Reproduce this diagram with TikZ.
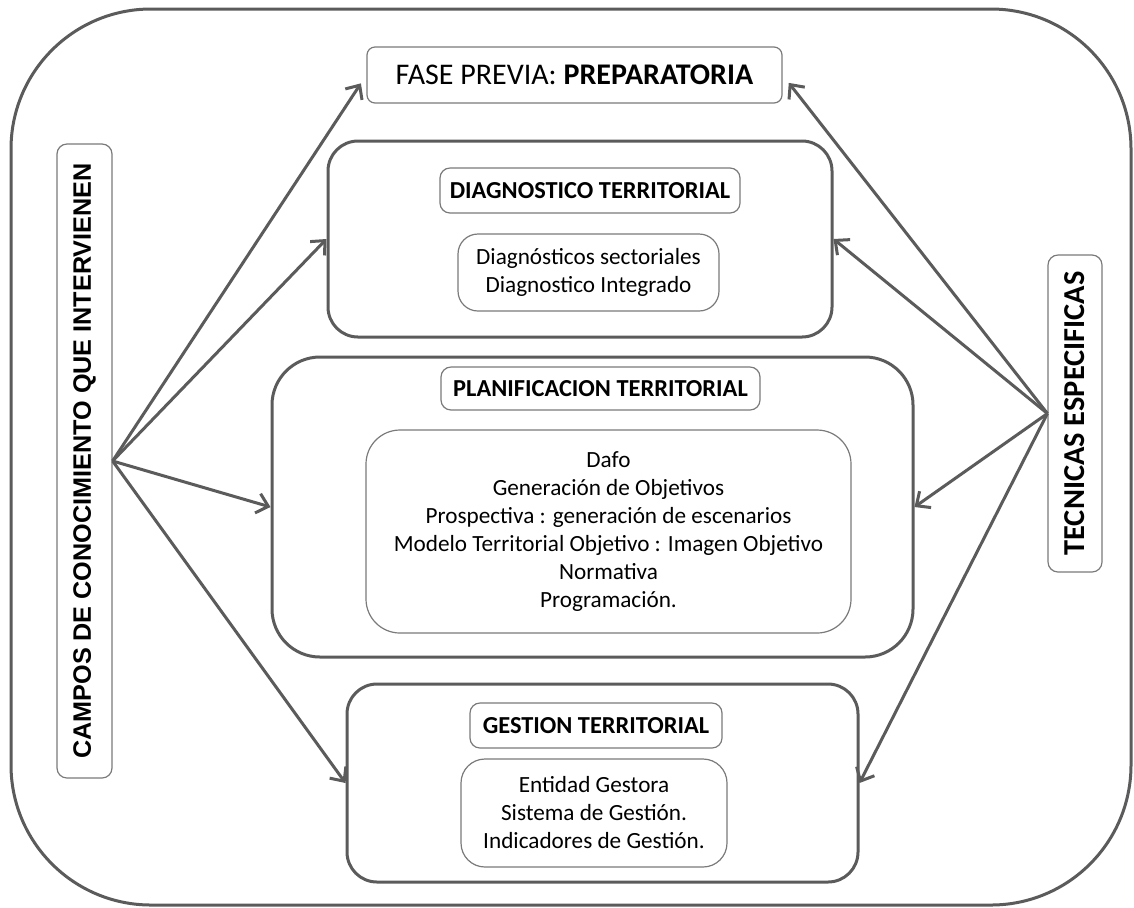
\documentclass[tikz,border=0pt]{standalone}
\usepackage{fontspec}
\setmainfont{Carlito}
\newfontfamily\arialfont{Liberation Sans}
\usetikzlibrary{positioning, calc}
\usetikzlibrary{arrows.meta}
\definecolor{framegray}{HTML}{5B5B5B}
\definecolor{boxgray}{HTML}{7A7A7A}

\begin{document}
\begin{tikzpicture}[x=0.5pt, y=-0.5pt, >={Straight Barb[length=5.5pt,width=10pt]}]
 	\tikzstyle{stage}=[draw=framegray, line width=1.5pt, inner sep=0pt]
 	\tikzstyle{t-node}=[draw=boxgray, line width=0.6pt, rounded corners=5pt, inner sep=0pt, font=\fontsize{12.2}{14}\selectfont\bfseries]
 	\tikzstyle{c-node}=[draw=boxgray, line width=0.6pt, inner sep=0pt, align=center, font=\fontsize{11.6}{14}\selectfont]
 	\tikzstyle{side}=[draw=boxgray, line width=0.6pt, rounded corners=5pt, inner sep=0pt, rotate=90]
 	\tikzstyle{link}=[->, draw=framegray, line width=1.5pt]
 	\useasboundingbox (0,0) rectangle (1134,907);
 	% outer frame
 	\draw[framegray, line width=1.5pt, rounded corners=70pt] (11,9) rectangle (1131,905);
 	% side labels
 	\node[side, minimum width=317pt, minimum height=27.5pt, font=\arialfont\fontsize{12.6}{15}\selectfont\bfseries] (campos) at (84.5,461) {CAMPOS DE CONOCIMIENTO QUE INTERVIENEN};
 	\node[side, minimum width=158.5pt, minimum height=27pt, font=\fontsize{15.2}{18}\selectfont\bfseries] (tecnicas) at (1075,413.5) {TECNICAS ESPECIFICAS};
 	% fase previa
 	\node[draw=boxgray, line width=0.6pt, rounded corners=4pt, minimum width=207.5pt, minimum height=28pt, inner sep=0pt, font=\fontsize{15}{18}\selectfont] (fase) at (574.5,75) {FASE PREVIA: \textbf{PREPARATORIA}};
 	% diagnostico
 	\node[stage, rounded corners=15pt, minimum width=252pt, minimum height=98pt] (diag) at (580,239) {};
 	\node[t-node, minimum width=150pt, minimum height=22.5pt] (diag-t) at (590,190.5) {DIAGNOSTICO TERRITORIAL};
 	\node[c-node, rounded corners=10pt, minimum width=130.5pt, minimum height=38.5pt] (diag-c) at (588.5,272.5) {Diagnósticos sectoriales\\ Diagnostico Integrado};
 	% planificacion
 	\node[stage, rounded corners=24pt, minimum width=320.5pt, minimum height=150pt] (plan) at (592.5,507) {};
 	\node[t-node, minimum width=159.5pt, minimum height=21.5pt] (plan-t) at (600.5,388.5) {PLANIFICACION TERRITORIAL};
 	\node[c-node, rounded corners=17pt, minimum width=242.5pt, minimum height=101.5pt] (plan-c) at (608.5,531.5) {Dafo\\ Generación de Objetivos\\ Prospectiva : generación de escenarios\\ Modelo Territorial Objetivo : Imagen Objetivo\\ Normativa\\ Programación.};
 	% gestion
 	\node[stage, rounded corners=15pt, minimum width=255.5pt, minimum height=99pt] (gest) at (602.5,783) {};
 	\node[t-node, minimum width=126pt, minimum height=22.5pt] (gest-t) at (596,725.5) {GESTION TERRITORIAL};
 	\node[c-node, rounded corners=12pt, minimum width=133pt, minimum height=54pt] (gest-c) at (594,813) {Entidad Gestora\\ Sistema de Gestión.\\ Indicadores de Gestión.};

 	\path (campos.south) edge[link, shorten >=5pt] (fase.west)
 		(campos.south) edge[link] (diag.west)
 		(campos.south) edge[link] (plan.west)
 		(campos.south) edge[link] (gest.west);
 	\path (tecnicas.north) edge[link, shorten >=5pt] (fase.east)
 		(tecnicas.north) edge[link] (diag.east)
 		(tecnicas.north) edge[link] (plan.east)
 		(tecnicas.north) edge[link] (gest.east);
\end{tikzpicture}
\end{document}
